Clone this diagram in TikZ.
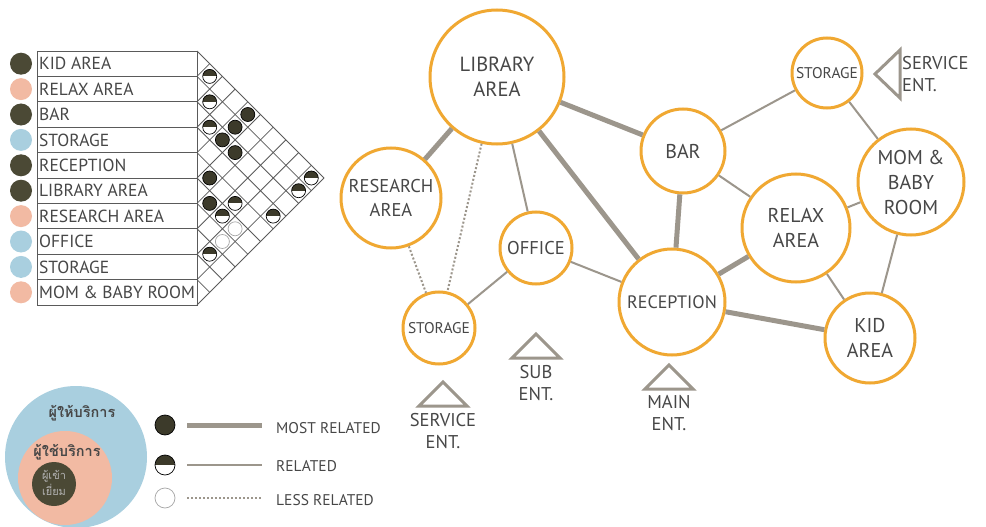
\documentclass[tikz,border=0pt]{standalone}
\usepackage{fontspec}
\setmainfont{PT Sans}
\newfontfamily\thaifont[Script=Thai]{Loma}
\definecolor{ringorange}{HTML}{F0A832}
\definecolor{linkgray}{HTML}{9C968C}
\definecolor{textgray}{HTML}{474747}
\definecolor{darkdot}{HTML}{4B4935}
\definecolor{pinkdot}{HTML}{F2BAA3}
\definecolor{bluedot}{HTML}{A9CFDF}
\definecolor{gridgray}{HTML}{5A5A5A}
\tikzset{
room/.style = {circle, draw = ringorange, line width = 3pt, fill = white, inner sep = 0pt, align = center, text = textgray, font = \fontsize{20}{25}\selectfont},
most/.style = {linkgray, line width = 5pt},
related/.style = {linkgray, line width = 2pt},
less/.style = {linkgray, line width = 2pt, dotted},
gridline/.style = {gridgray, line width = 0.8pt},
cellbase/.style = {circle, draw = black, line width = 0.7pt, minimum size = 14pt, inner sep = 0pt, fill = white},
fullcell/.style = {cellbase, fill = darkdot!80!black},
halfcell/.style = {cellbase, path picture = {\fill [darkdot!80!black] (path picture bounding box.west) rectangle (path picture bounding box.north east);}},
lesscell/.style = {cellbase, draw = gray!70},
entrance/.style = {linkgray, line width = 3pt, line join = miter},
enttext/.style = {text = textgray, align = center, font = \fontsize{18.5}{22}\selectfont, inner sep = 0pt},
keytext/.style = {text = textgray, anchor = west, font = \fontsize{15.5}{18}\selectfont, inner sep = 0pt}
}
\begin{document}
\begin{tikzpicture}[x = 1pt, y = -1pt]
\useasboundingbox [fill = white] (0,0) rectangle (986,527);
\def\xo{197}
\def\yo{51}
\def\h{25.4}
\foreach \k/\name/\dot in {1/KID AREA/darkdot, 2/RELAX AREA/pinkdot, 3/BAR/darkdot, 4/STORAGE/bluedot, 5/RECEPTION/darkdot, 6/LIBRARY AREA/darkdot, 7/RESEARCH AREA/pinkdot, 8/OFFICE/bluedot, 9/STORAGE/bluedot, 10/MOM \& BABY ROOM/pinkdot}{
\draw [gridline] (37,\yo+\k*\h-\h) rectangle (\xo,\yo+\k*\h);
\node [anchor = west, text = textgray, font = \fontsize{17.5}{18}\selectfont, inner sep = 0pt] (row\k) at (39,\yo+\k*\h-\h/2) {\name};
\fill [\dot] (21,\yo+\k*\h-\h/2) circle (11);
}
\foreach \k in {0,...,10}{
\draw [gridline] (\xo,\yo+\k*\h) -- ++({\k*\h/2},{-\k*\h/2});
\draw [gridline] (\xo,\yo+\k*\h) -- ++({(10-\k)*\h/2},{(10-\k)*\h/2});
}
\foreach \i/\j/\rel in {1/2/halfcell, 2/3/halfcell, 1/5/fullcell, 3/4/halfcell, 2/5/fullcell, 3/5/fullcell, 3/6/fullcell, 5/6/fullcell, 1/10/halfcell, 2/10/halfcell, 6/7/fullcell, 5/8/halfcell, 6/8/halfcell, 4/10/halfcell, 6/9/lesscell, 7/9/lesscell, 8/9/halfcell}{
\node [\rel] (cell\i-\j) at ({\xo+(\j-\i)*\h/2},{\yo+(\i+\j-1)*\h/2}) {};
}
\node [room, minimum size = 134pt, font = \fontsize{20.5}{25}\selectfont] (library) at (497,77) {LIBRARY\\AREA};
\node [room, minimum size = 100pt, font = \fontsize{18.5}{24}\selectfont] (research) at (391,198) {RESEARCH\\AREA};
\node [room, minimum size = 72pt, font = \fontsize{18.5}{20}\selectfont] (office) at (536,248) {OFFICE};
\node [room, minimum size = 72pt, font = \fontsize{15.5}{18}\selectfont] (storageb) at (439,328) {STORAGE};
\node [room, minimum size = 106pt, font = \fontsize{18}{20}\selectfont] (reception) at (672,302) {RECEPTION};
\node [room, minimum size = 84pt] (bar) at (683,151) {BAR};
\node [room, minimum size = 70pt, font = \fontsize{15.5}{18}\selectfont] (storaget) at (827,73) {STORAGE};
\node [room, minimum size = 106pt] (mombaby) at (911,182) {MOM \&\\BABY\\ROOM};
\node [room, minimum size = 108pt] (relax) at (796,228) {RELAX\\AREA};
\node [room, minimum size = 90pt] (kid) at (870,338) {KID\\AREA};
\draw [most] (library) -- (research);
\draw [most] (library) -- (bar);
\draw [most] (library) -- (reception);
\draw [most] (bar) -- (reception);
\draw [most] (reception) -- (relax);
\draw [most] (reception) -- (kid);
\draw [related] (library) -- (office);
\draw [related] (office) -- (reception);
\draw [related] (office) -- (storageb);
\draw [related] (bar) -- (storaget);
\draw [related] (bar) -- (relax);
\draw [related] (storaget) -- (mombaby);
\draw [related] (relax) -- (mombaby);
\draw [related] (relax) -- (kid);
\draw [related] (mombaby) -- (kid);
\draw [less] (research) -- (storageb);
\draw [less] (library) -- (storageb);
\draw [entrance] (875,74) -- (900,50) -- (900,98) -- cycle;
\node [enttext, align = left, anchor = west] (serviceentt) at (902,74) {SERVICE\\ENT.};
\draw [entrance] (443,382) -- (467,406) -- (419,406) -- cycle;
\node [enttext] (serviceentb) at (443,431) {SERVICE\\ENT.};
\draw [entrance] (536,334) -- (560,358) -- (512,358) -- cycle;
\node [enttext] (subent) at (536,383) {SUB\\ENT.};
\draw [entrance] (669,365) -- (693,389) -- (645,389) -- cycle;
\node [enttext] (mainent) at (669,413) {MAIN\\ENT.};
\node [circle, fill = bluedot, minimum size = 142pt, inner sep = 0pt] (provider) at (76,457) {};
\node [circle, fill = pinkdot, minimum size = 94pt, inner sep = 0pt] (user) at (65,478) {};
\node [circle, fill = darkdot, minimum size = 44pt, inner sep = 0pt] (visitor) at (54,484) {};
\node [text = textgray, font = \thaifont\bfseries\fontsize{14.5}{16}\selectfont, inner sep = 0pt] (providertext) at (82,413) {ผู้ให้บริการ};
\node [text = textgray, font = \thaifont\bfseries\fontsize{14.5}{16}\selectfont, inner sep = 0pt] (usertext) at (67,452) {ผู้ใช้บริการ};
\node [text = gray!60, align = center, font = \thaifont\fontsize{11}{16}\selectfont, inner sep = 0pt] (visitortext) at (54,483) {ผู้เข้า\\เยี่ยม};
\node [fullcell, minimum size = 20pt] (fullkey) at (165,425) {};
\node [halfcell, minimum size = 20pt] (halfkey) at (165,465) {};
\node [lesscell, minimum size = 20pt] (lesskey) at (165,498) {};
\draw [most] (187,425) -- (262,425);
\draw [related] (187,465) -- (262,465);
\draw [less] (187,498) -- (262,498);
\node [keytext] (mostlabel) at (276,428) {MOST RELATED};
\node [keytext] (relatedlabel) at (276,466) {RELATED};
\node [keytext] (lesslabel) at (276,500) {LESS RELATED};
\end{tikzpicture}
\end{document}
